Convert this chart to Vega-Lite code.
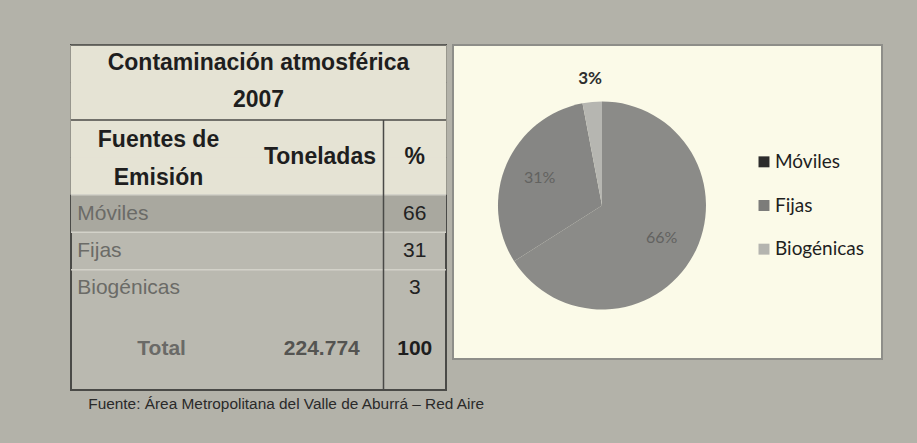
{
  "$schema": "https://vega.github.io/schema/vega-lite/v6.json",
  "background": "#b3b2a9",
  "padding": {"left": 69, "top": 43, "right": 35, "bottom": 36},
  "title": {"text": "Fuente: Área Metropolitana del Valle de Aburrá – Red Aire", "orient": "bottom", "anchor": "start", "dx": 19, "offset": 5, "font": "Liberation Sans", "fontSize": 15.4, "fontWeight": "normal", "color": "#2a2a2a"},
  "datasets": {
    "tabla": [
      {"fuente": "Móviles", "porcentaje": 66},
      {"fuente": "Fijas", "porcentaje": 31},
      {"fuente": "Biogénicas", "porcentaje": 3},
      {"fuente": "Total", "toneladas": "224.774", "porcentaje": 100}
    ],
    "emisiones": [
      {"fuente": "Móviles", "porcentaje": 66, "etiqueta": "66%"},
      {"fuente": "Fijas", "porcentaje": 31, "etiqueta": "31%"},
      {"fuente": "Biogénicas", "porcentaje": 3, "etiqueta": "3%"}
    ]
  },
  "spacing": 4,
  "hconcat": [
    {
      "width": 375,
      "height": 345,
      "view": {"fill": "#bab9b0", "stroke": "#4a4a47", "strokeWidth": 2},
      "layer": [
        {
          "data": {"values": [{"fila": "t1"}, {"fila": "t2"}, {"fila": "h1"}, {"fila": "h2"}]},
          "mark": {"type": "rect", "fill": "#e5e3d4", "stroke": "#e5e3d4", "strokeWidth": 1},
          "encoding": {
            "y": {"field": "fila", "type": "nominal", "scale": {"type": "band", "domain": ["t1", "t2", "h1", "h2", "Móviles", "Fijas", "Biogénicas", "vacía", "Total"], "paddingInner": 0, "paddingOuter": 0, "range": [0, 337]}, "axis": null}
          }
        },
        {
          "data": {"values": [{"fila": "Móviles"}]},
          "mark": {"type": "rect", "fill": "#a9a89f"},
          "encoding": {
            "y": {"field": "fila", "type": "nominal", "scale": {"type": "band", "domain": ["t1", "t2", "h1", "h2", "Móviles", "Fijas", "Biogénicas", "vacía", "Total"], "paddingInner": 0, "paddingOuter": 0, "range": [0, 337]}, "axis": null}
          }
        },
        {
          "data": {"values": [{"fila": "Móviles"}, {"fila": "Fijas"}, {"fila": "Biogénicas"}]},
          "mark": {"type": "rule", "stroke": "#d3d2c9", "strokeWidth": 1.5},
          "encoding": {
            "y": {"field": "fila", "type": "nominal", "bandPosition": 0, "scale": {"type": "band", "domain": ["t1", "t2", "h1", "h2", "Móviles", "Fijas", "Biogénicas", "vacía", "Total"], "paddingInner": 0, "paddingOuter": 0, "range": [0, 337]}, "axis": null}
          }
        },
        {
          "data": {"values": [{"fila": "t1"}, {"fila": "h1"}]},
          "mark": {"type": "rule", "stroke": "#4a4a47", "strokeWidth": 1.5},
          "encoding": {
            "y": {"field": "fila", "type": "nominal", "bandPosition": 0, "scale": {"type": "band", "domain": ["t1", "t2", "h1", "h2", "Móviles", "Fijas", "Biogénicas", "vacía", "Total"], "paddingInner": 0, "paddingOuter": 0, "range": [0, 337]}, "axis": null}
          }
        },
        {
          "data": {"values": [{"fila": "h1", "columna": "c6"}]},
          "mark": {"type": "rule", "stroke": "#4a4a47", "strokeWidth": 1.5},
          "encoding": {
            "x": {"field": "columna", "type": "nominal", "bandPosition": 0, "scale": {"type": "band", "domain": ["c1", "c2", "c3", "c4", "c5", "c6"], "paddingInner": 0, "paddingOuter": 0}, "axis": null},
            "y": {"field": "fila", "type": "nominal", "bandPosition": 0, "scale": {"type": "band", "domain": ["t1", "t2", "h1", "h2", "Móviles", "Fijas", "Biogénicas", "vacía", "Total"], "paddingInner": 0, "paddingOuter": 0, "range": [0, 337]}, "axis": null},
            "y2": {"value": "height"}
          }
        },
        {
          "data": {"values": [{"fila": "t1", "texto": "Contaminación atmosférica"}, {"fila": "t2", "texto": "2007"}]},
          "mark": {"type": "text", "font": "Liberation Sans", "fontSize": 23, "fontWeight": "bold", "fill": "#1e1e1e", "align": "center", "baseline": "middle"},
          "encoding": {
            "x": {"datum": "c4", "type": "nominal", "bandPosition": 0, "scale": {"type": "band", "domain": ["c1", "c2", "c3", "c4", "c5", "c6"], "paddingInner": 0, "paddingOuter": 0}, "axis": null},
            "y": {"field": "fila", "type": "nominal", "bandPosition": 0.47, "scale": {"type": "band", "domain": ["t1", "t2", "h1", "h2", "Móviles", "Fijas", "Biogénicas", "vacía", "Total"], "paddingInner": 0, "paddingOuter": 0, "range": [0, 337]}, "axis": null},
            "text": {"field": "texto", "type": "nominal"}
          }
        },
        {
          "data": {"values": [{"fila": "h1", "texto": "Fuentes de"}, {"fila": "h2", "texto": "Emisión"}]},
          "mark": {"type": "text", "font": "Liberation Sans", "fontSize": 23, "fontWeight": "bold", "fill": "#1e1e1e", "align": "center", "baseline": "middle"},
          "encoding": {
            "x": {"datum": "c2", "type": "nominal", "bandPosition": 0.4, "scale": {"type": "band", "domain": ["c1", "c2", "c3", "c4", "c5", "c6"], "paddingInner": 0, "paddingOuter": 0}, "axis": null},
            "y": {"field": "fila", "type": "nominal", "bandPosition": 0.55, "scale": {"type": "band", "domain": ["t1", "t2", "h1", "h2", "Móviles", "Fijas", "Biogénicas", "vacía", "Total"], "paddingInner": 0, "paddingOuter": 0, "range": [0, 337]}, "axis": null},
            "text": {"field": "texto", "type": "nominal"}
          }
        },
        {
          "data": {"values": [{"fila": "h2", "texto": "Toneladas"}]},
          "mark": {"type": "text", "font": "Liberation Sans", "fontSize": 23, "fontWeight": "bold", "fill": "#1e1e1e", "align": "right", "baseline": "middle"},
          "encoding": {
            "x": {"datum": "c5", "type": "nominal", "bandPosition": 0.88, "scale": {"type": "band", "domain": ["c1", "c2", "c3", "c4", "c5", "c6"], "paddingInner": 0, "paddingOuter": 0}, "axis": null},
            "y": {"field": "fila", "type": "nominal", "bandPosition": 0, "scale": {"type": "band", "domain": ["t1", "t2", "h1", "h2", "Móviles", "Fijas", "Biogénicas", "vacía", "Total"], "paddingInner": 0, "paddingOuter": 0, "range": [0, 337]}, "axis": null},
            "text": {"field": "texto", "type": "nominal"}
          }
        },
        {
          "data": {"values": [{"fila": "h2", "texto": "%"}]},
          "mark": {"type": "text", "font": "Liberation Sans", "fontSize": 23, "fontWeight": "bold", "fill": "#1e1e1e", "align": "center", "baseline": "middle"},
          "encoding": {
            "x": {"datum": "c6", "type": "nominal", "bandPosition": 0.5, "scale": {"type": "band", "domain": ["c1", "c2", "c3", "c4", "c5", "c6"], "paddingInner": 0, "paddingOuter": 0}, "axis": null},
            "y": {"field": "fila", "type": "nominal", "bandPosition": 0, "scale": {"type": "band", "domain": ["t1", "t2", "h1", "h2", "Móviles", "Fijas", "Biogénicas", "vacía", "Total"], "paddingInner": 0, "paddingOuter": 0, "range": [0, 337]}, "axis": null},
            "text": {"field": "texto", "type": "nominal"}
          }
        },
        {
          "data": {"name": "tabla"},
          "transform": [{"filter": "datum.fuente !== 'Total'"}],
          "mark": {"type": "text", "font": "Liberation Sans", "fontSize": 21, "fill": "#6b6b67", "align": "left", "baseline": "middle"},
          "encoding": {
            "x": {"datum": "c1", "type": "nominal", "bandPosition": 0.1, "scale": {"type": "band", "domain": ["c1", "c2", "c3", "c4", "c5", "c6"], "paddingInner": 0, "paddingOuter": 0}, "axis": null},
            "y": {"field": "fuente", "type": "nominal", "bandPosition": 0.5, "scale": {"type": "band", "domain": ["t1", "t2", "h1", "h2", "Móviles", "Fijas", "Biogénicas", "vacía", "Total"], "paddingInner": 0, "paddingOuter": 0, "range": [0, 337]}, "axis": null},
            "text": {"field": "fuente", "type": "nominal"}
          }
        },
        {
          "data": {"name": "tabla"},
          "transform": [{"filter": "datum.fuente !== 'Total'"}],
          "mark": {"type": "text", "font": "Liberation Sans", "fontSize": 21, "fill": "#222222", "align": "center", "baseline": "middle"},
          "encoding": {
            "x": {"datum": "c6", "type": "nominal", "bandPosition": 0.5, "scale": {"type": "band", "domain": ["c1", "c2", "c3", "c4", "c5", "c6"], "paddingInner": 0, "paddingOuter": 0}, "axis": null},
            "y": {"field": "fuente", "type": "nominal", "bandPosition": 0.5, "scale": {"type": "band", "domain": ["t1", "t2", "h1", "h2", "Móviles", "Fijas", "Biogénicas", "vacía", "Total"], "paddingInner": 0, "paddingOuter": 0, "range": [0, 337]}, "axis": null},
            "text": {"field": "porcentaje", "type": "quantitative"}
          }
        },
        {
          "data": {"name": "tabla"},
          "transform": [{"filter": "datum.fuente === 'Total'"}],
          "mark": {"type": "text", "font": "Liberation Sans", "fontSize": 21, "fontWeight": "bold", "fill": "#6a6a67", "align": "center", "baseline": "middle"},
          "encoding": {
            "x": {"datum": "c2", "type": "nominal", "bandPosition": 0.45, "scale": {"type": "band", "domain": ["c1", "c2", "c3", "c4", "c5", "c6"], "paddingInner": 0, "paddingOuter": 0}, "axis": null},
            "y": {"field": "fuente", "type": "nominal", "bandPosition": 0.12, "scale": {"type": "band", "domain": ["t1", "t2", "h1", "h2", "Móviles", "Fijas", "Biogénicas", "vacía", "Total"], "paddingInner": 0, "paddingOuter": 0, "range": [0, 337]}, "axis": null},
            "text": {"field": "fuente", "type": "nominal"}
          }
        },
        {
          "data": {"name": "tabla"},
          "transform": [{"filter": "datum.fuente === 'Total'"}],
          "mark": {"type": "text", "font": "Liberation Sans", "fontSize": 21, "fontWeight": "bold", "fill": "#545451", "align": "right", "baseline": "middle"},
          "encoding": {
            "x": {"datum": "c5", "type": "nominal", "bandPosition": 0.62, "scale": {"type": "band", "domain": ["c1", "c2", "c3", "c4", "c5", "c6"], "paddingInner": 0, "paddingOuter": 0}, "axis": null},
            "y": {"field": "fuente", "type": "nominal", "bandPosition": 0.12, "scale": {"type": "band", "domain": ["t1", "t2", "h1", "h2", "Móviles", "Fijas", "Biogénicas", "vacía", "Total"], "paddingInner": 0, "paddingOuter": 0, "range": [0, 337]}, "axis": null},
            "text": {"field": "toneladas", "type": "nominal"}
          }
        },
        {
          "data": {"name": "tabla"},
          "transform": [{"filter": "datum.fuente === 'Total'"}],
          "mark": {"type": "text", "font": "Liberation Sans", "fontSize": 21, "fontWeight": "bold", "fill": "#1e1e1e", "align": "center", "baseline": "middle"},
          "encoding": {
            "x": {"datum": "c6", "type": "nominal", "bandPosition": 0.5, "scale": {"type": "band", "domain": ["c1", "c2", "c3", "c4", "c5", "c6"], "paddingInner": 0, "paddingOuter": 0}, "axis": null},
            "y": {"field": "fuente", "type": "nominal", "bandPosition": 0.12, "scale": {"type": "band", "domain": ["t1", "t2", "h1", "h2", "Móviles", "Fijas", "Biogénicas", "vacía", "Total"], "paddingInner": 0, "paddingOuter": 0, "range": [0, 337]}, "axis": null},
            "text": {"field": "porcentaje", "type": "quantitative"}
          }
        }
      ]
    },
    {
      "width": 429,
      "height": 314,
      "view": {"fill": "#fbfae8", "stroke": "#8e8e89", "strokeWidth": 2},
      "data": {"name": "emisiones"},
      "layer": [
        {
          "mark": {"type": "arc", "outerRadius": 104},
          "encoding": {
            "x": {"datum": "grafico", "type": "nominal", "scale": {"type": "point", "domain": ["grafico", "leyenda"], "padding": 0.824, "align": 0.558}, "axis": null},
            "y": {"datum": "Fijas", "type": "nominal", "bandPosition": 0.5, "scale": {"type": "band", "domain": ["Móviles", "Fijas", "Biogénicas"], "paddingInner": 0, "paddingOuter": 0, "range": [95, 226]}, "axis": null},
            "theta": {"field": "porcentaje", "type": "quantitative", "stack": true},
            "order": {"field": "fuente", "sort": "descending"},
            "color": {"field": "fuente", "type": "nominal", "scale": {"domain": ["Móviles", "Fijas", "Biogénicas"], "range": ["#8b8b88", "#868684", "#b6b6b1"]}, "legend": null}
          }
        },
        {
          "mark": {"type": "text", "radius": 68, "font": "Lato", "fontSize": 16, "fill": "#626260", "align": "center", "baseline": "middle"},
          "encoding": {
            "x": {"datum": "grafico", "type": "nominal", "scale": {"type": "point", "domain": ["grafico", "leyenda"], "padding": 0.824, "align": 0.558}, "axis": null},
            "y": {"datum": "Fijas", "type": "nominal", "bandPosition": 0.5, "scale": {"type": "band", "domain": ["Móviles", "Fijas", "Biogénicas"], "paddingInner": 0, "paddingOuter": 0, "range": [95, 226]}, "axis": null},
            "theta": {"field": "porcentaje", "type": "quantitative", "stack": true},
            "order": {"field": "fuente", "sort": "descending"},
            "detail": {"field": "fuente", "type": "nominal"},
            "text": {"condition": {"test": "datum.fuente !== 'Biogénicas'", "field": "etiqueta", "type": "nominal"}, "value": ""}
          }
        },
        {
          "mark": {"type": "text", "radius": 127, "font": "Lato", "fontSize": 17, "fontWeight": "bold", "fill": "#2e2e2e", "align": "center", "baseline": "middle"},
          "encoding": {
            "x": {"datum": "grafico", "type": "nominal", "scale": {"type": "point", "domain": ["grafico", "leyenda"], "padding": 0.824, "align": 0.558}, "axis": null},
            "y": {"datum": "Fijas", "type": "nominal", "bandPosition": 0.5, "scale": {"type": "band", "domain": ["Móviles", "Fijas", "Biogénicas"], "paddingInner": 0, "paddingOuter": 0, "range": [95, 226]}, "axis": null},
            "theta": {"field": "porcentaje", "type": "quantitative", "stack": true},
            "order": {"field": "fuente", "sort": "descending"},
            "detail": {"field": "fuente", "type": "nominal"},
            "text": {"condition": {"test": "datum.fuente === 'Biogénicas'", "field": "etiqueta", "type": "nominal"}, "value": ""}
          }
        },
        {
          "mark": {"type": "square", "size": 120, "filled": true, "opacity": 1},
          "encoding": {
            "x": {"datum": "leyenda", "type": "nominal", "scale": {"type": "point", "domain": ["grafico", "leyenda"], "padding": 0.824, "align": 0.558}, "axis": null},
            "y": {"field": "fuente", "type": "nominal", "bandPosition": 0.5, "scale": {"type": "band", "domain": ["Móviles", "Fijas", "Biogénicas"], "paddingInner": 0, "paddingOuter": 0, "range": [95, 226]}, "axis": null},
            "fill": {"field": "fuente", "type": "nominal", "scale": {"domain": ["Móviles", "Fijas", "Biogénicas"], "range": ["#2c2c2c", "#7c7c7a", "#b4b4af"]}, "legend": null}
          }
        },
        {
          "mark": {"type": "text", "dx": 11, "font": "Lato", "fontSize": 19, "fill": "#1f1f1f", "align": "left", "baseline": "middle"},
          "encoding": {
            "x": {"datum": "leyenda", "type": "nominal", "scale": {"type": "point", "domain": ["grafico", "leyenda"], "padding": 0.824, "align": 0.558}, "axis": null},
            "y": {"field": "fuente", "type": "nominal", "bandPosition": 0.5, "scale": {"type": "band", "domain": ["Móviles", "Fijas", "Biogénicas"], "paddingInner": 0, "paddingOuter": 0, "range": [95, 226]}, "axis": null},
            "text": {"field": "fuente", "type": "nominal"}
          }
        }
      ]
    }
  ]
}
